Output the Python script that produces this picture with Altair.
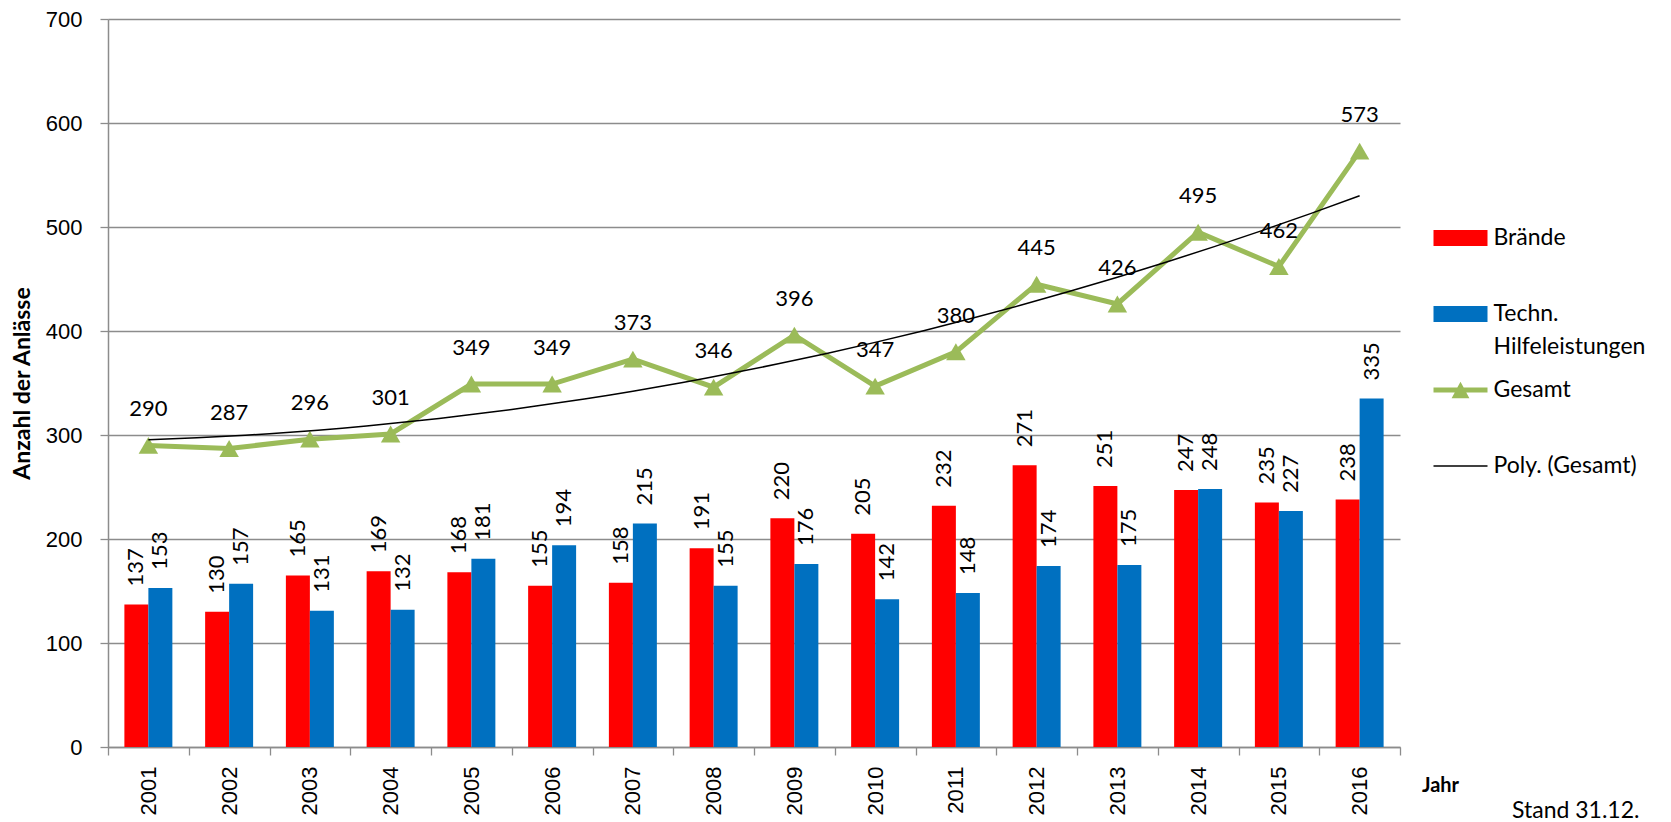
import altair as alt
import pandas as pd

# ---- data ----
years = [2001, 2002, 2003, 2004, 2005, 2006, 2007, 2008,
         2009, 2010, 2011, 2012, 2013, 2014, 2015, 2016]
braende = [137, 130, 165, 169, 168, 155, 158, 191, 220, 205, 232, 271, 251, 247, 235, 238]
techn = [153, 157, 131, 132, 181, 194, 215, 155, 176, 142, 148, 174, 175, 248, 227, 335]
gesamt = [290, 287, 296, 301, 349, 349, 373, 346, 396, 347, 380, 445, 426, 495, 462, 573]

bar_series = ["Braende", "Techn"]
bar_colors = ["#FF0000", "#0070C0"]
line_color = "#9BBB59"

legend_labels = ["Brände", "Techn.\nHilfeleistungen", "Gesamt", "Poly. (Gesamt)"]
legend_colors = ["#FF0000", "#0070C0", "#9BBB59", "#000000"]
legend_shapes = [
    "M-1,-0.3H1V0.3H-1Z",
    "M-1,-0.3H1V0.3H-1Z",
    "M-1,-0.09H-0.117L0,-0.31L0.117,-0.09H1V0.09H0.213L0.33,0.31H-0.33L-0.213,0.09H-1Z",
    "M-1,-0.028H1V0.028H-1Z",
]
y_ticks = [0, 100, 200, 300, 400, 500, 600, 700]

df = pd.DataFrame({"Jahr": years, "Braende": braende, "Techn": techn, "Gesamt": gesamt})
leg_df = pd.DataFrame({"label": legend_labels})

GRID = "#8C8C8C"
yscale = alt.Scale(domain=[0, 700], nice=False, zero=True)
yaxis = alt.Axis(
    values=y_ticks, grid=True, gridColor=GRID, gridWidth=1.3,
    domainColor=GRID, domainWidth=1.5, tickColor=GRID, tickSize=8, tickWidth=1.3,
    labelFont="Liberation Sans", labelFontSize=22, labelColor="black", labelPadding=18,
    title="Anzahl der Anlässe", titleFont="Lato", titleFontSize=23, titleFontWeight="bold",
    titleColor="black", titlePadding=11,
)
xscale = alt.Scale(paddingInner=0, paddingOuter=0)
xaxis = alt.Axis(
    tickBand="extent", grid=False, domainColor=GRID, domainWidth=1.5,
    tickColor=GRID, tickSize=8, tickWidth=1.3, labelAngle=270,
    labelFont="Liberation Sans", labelFontSize=22, labelColor="black", labelPadding=11,
    title="Jahr", titleFont="Lato", titleFontSize=20, titleFontWeight="bold", titleColor="black",
    titleX=1332, titleY=38, titleAlign="center", titleBaseline="middle", titleAngle=0,
)


def X():
    return alt.X("Jahr:O", scale=xscale, axis=xaxis)


def Y(field):
    return alt.Y(field, scale=yscale, axis=yaxis)


base = alt.Chart(df)
folded = base.transform_fold(bar_series, as_=["serie", "wert"])
xoff = alt.XOffset("serie:N", scale=alt.Scale(domain=bar_series, paddingInner=0, paddingOuter=0.683))

bars = folded.mark_bar().encode(
    x=X(), xOffset=xoff, y=Y("wert:Q"),
    color=alt.Color("serie:N", scale=alt.Scale(domain=bar_series, range=bar_colors), legend=None),
)
bar_labels = folded.mark_text(
    angle=270, align="left", baseline="middle", dx=18, font="Lato", fontSize=22, color="black"
).encode(x=X(), xOffset=xoff, y=Y("wert:Q"), text="wert:Q")

line = base.mark_line(color=line_color, strokeWidth=5).encode(x=X(), y=Y("Gesamt:Q"))
pts = base.mark_point(shape="triangle-up", filled=True, size=380, color=line_color, opacity=1).encode(
    x=X(), y=Y("Gesamt:Q"))
glabels = base.mark_text(dy=-36, font="Lato", fontSize=22, color="black").encode(
    x=alt.X("Jahr:O", scale=xscale, axis=None), y=Y("Gesamt:Q"), text="Gesamt:Q")

trend = base.transform_regression(
    "Jahr", "Gesamt", method="poly", order=2, extent=[2001, 2016]
).mark_line(color="black", strokeWidth=1.5).encode(
    x=alt.X("Jahr:Q", scale=alt.Scale(domain=[2000.5, 2016.5], nice=False, zero=False), axis=None),
    y=Y("Gesamt:Q"),
)

main = alt.layer(
    alt.layer(bars, bar_labels, line, pts), trend, glabels
).resolve_scale(x="independent").properties(width=1292, height=728)

# ---- legend panel ----
ly = alt.Y("label:N", scale=alt.Scale(domain=legend_labels, type="point", padding=0,
                                      range=[219, 447]), axis=None)
leg_base = alt.Chart(leg_df)
leg_sym = leg_base.mark_point(filled=True, size=2916, opacity=1).encode(
    y=ly,
    shape=alt.Shape("label:N", scale=alt.Scale(domain=legend_labels, range=legend_shapes), legend=None),
    color=alt.Color("label:N", scale=alt.Scale(domain=legend_labels, range=legend_colors), legend=None),
)
leg_txt = leg_base.mark_text(
    align="left", baseline="middle", dx=33, font="Lato", fontSize=23, lineBreak="\n",
    lineHeight=33, color="black"
).encode(y=ly, text="label:N")
legend = alt.layer(leg_sym, leg_txt).properties(
    width=53, height=664,
    title=alt.TitleParams("Stand 31.12.", orient="bottom", anchor="start", frame="group",
                          dx=78, offset=117, font="Lato", fontSize=23, fontWeight="normal",
                          color="black", baseline="top"),
)

chart = alt.hconcat(main, legend, spacing=34, bounds="flush").properties(
    padding={"left": 3, "top": 0, "right": 0, "bottom": 0}
).configure_view(stroke=None).resolve_scale(color="independent", shape="independent", y="independent")

chart.save("out.html", embed_options={"renderer": "svg", "actions": False})
